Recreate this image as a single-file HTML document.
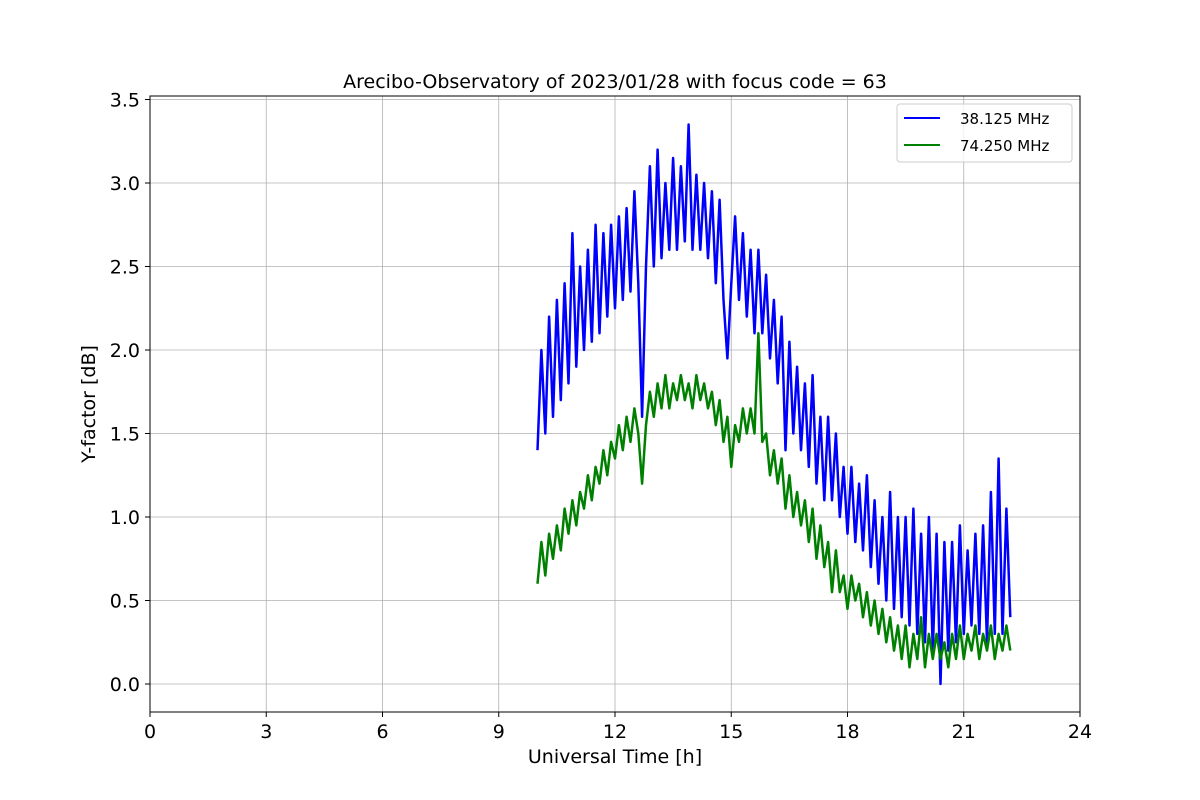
<!DOCTYPE html>
<html><head><meta charset="utf-8"><style>
html,body{margin:0;padding:0;background:#fff;}
svg{display:block;font-family:"DejaVu Sans","Liberation Sans",sans-serif;}
</style></head><body>
<svg id="chart" width="1200" height="800" xmlns="http://www.w3.org/2000/svg">
<rect width="1200" height="800" fill="#fff"/>
<text x="615" y="88" font-size="19" text-anchor="middle" fill="#000">Arecibo-Observatory of 2023/01/28 with focus code = 63</text>
<g id="grid"></g>
<g id="series"></g>
<rect x="150" y="96" width="930" height="616" fill="none" stroke="#000" stroke-width="1"/>
<g id="ticks"></g>
<text x="615" y="763" font-size="19" text-anchor="middle">Universal Time [h]</text>
<text transform="translate(95,404) rotate(-90)" font-size="19" text-anchor="middle">Y-factor [dB]</text>
<g>
<rect x="897" y="104" width="175" height="58" rx="3" fill="#fff" fill-opacity="0.8" stroke="#ccc"/>
<line x1="904" y1="118" x2="940" y2="118" stroke="#0000ff" stroke-width="2"/>
<text x="960" y="124" font-size="15">38.125 MHz</text>
<line x1="904" y1="145" x2="940" y2="145" stroke="#008000" stroke-width="2"/>
<text x="960" y="151" font-size="15">74.250 MHz</text>
</g>
</svg>
<script>
const xTicks=[0,3,6,9,12,15,18,21,24];
const yTicks=[0.0,0.5,1.0,1.5,2.0,2.5,3.0,3.5];
const tStart=10.0, tStep=0.1;
const blue=[1.4,2.0,1.5,2.2,1.6,2.3,1.7,2.4,1.8,2.7,1.9,2.5,2.0,2.6,2.05,2.75,2.1,2.7,2.2,2.75,2.25,2.8,2.3,2.85,2.35,2.95,2.4,1.6,2.5,3.1,2.5,3.2,2.55,3.0,2.6,3.15,2.6,3.1,2.65,3.35,2.6,3.05,2.6,3.0,2.55,2.95,2.4,2.9,2.3,1.95,2.4,2.8,2.3,2.7,2.2,2.6,2.1,2.6,2.1,2.45,1.95,2.3,1.8,2.2,1.4,2.05,1.5,1.9,1.4,1.8,1.3,1.85,1.2,1.6,1.1,1.6,1.1,1.5,1.0,1.3,0.9,1.3,0.85,1.2,0.8,1.25,0.7,1.1,0.6,1.0,0.5,1.15,0.45,1.0,0.4,1.0,0.35,1.05,0.3,0.9,0.25,1.0,0.2,0.9,0.0,0.85,0.2,0.85,0.25,0.95,0.3,0.8,0.35,0.9,0.3,0.95,0.25,1.15,0.3,1.35,0.3,1.05,0.4];
const green=[0.6,0.85,0.65,0.9,0.75,0.95,0.8,1.05,0.9,1.1,0.95,1.15,1.05,1.25,1.1,1.3,1.2,1.4,1.25,1.45,1.35,1.55,1.4,1.6,1.45,1.65,1.5,1.2,1.55,1.75,1.6,1.8,1.65,1.85,1.65,1.8,1.7,1.85,1.7,1.8,1.65,1.85,1.7,1.8,1.65,1.75,1.55,1.7,1.45,1.6,1.3,1.55,1.45,1.65,1.5,1.65,1.5,2.1,1.45,1.5,1.25,1.4,1.2,1.35,1.05,1.25,1.0,1.15,0.95,1.1,0.85,1.05,0.75,0.95,0.7,0.85,0.55,0.8,0.55,0.65,0.45,0.65,0.5,0.6,0.4,0.55,0.35,0.5,0.3,0.45,0.25,0.4,0.2,0.35,0.15,0.35,0.1,0.3,0.15,0.4,0.1,0.3,0.15,0.3,0.15,0.25,0.1,0.3,0.15,0.35,0.15,0.3,0.2,0.35,0.15,0.3,0.2,0.35,0.15,0.3,0.2,0.35,0.2];
const NS="http://www.w3.org/2000/svg";
const X0=150,X1=1080,XMIN=0,XMAX=24;
const Y0v=684,YPER=167;
function sx(v){return X0+(v-XMIN)/(XMAX-XMIN)*(X1-X0);}
function sy(v){return Y0v-v*YPER;}
function mk(tag,attrs,parent){const e=document.createElementNS(NS,tag);for(const k in attrs)e.setAttribute(k,attrs[k]);parent.appendChild(e);return e;}
const grid=document.getElementById('grid'),ticks=document.getElementById('ticks'),ser=document.getElementById('series');
xTicks.forEach(t=>{const x=sx(t);
 const g=mk('line',{x1:x,x2:x,y1:96,y2:712,stroke:'#b0b0b0','stroke-width':0.8},grid);
 
 
 mk('line',{x1:x,x2:x,y1:712,y2:717,stroke:'#000'},ticks);
 const tx=mk('text',{x:x,y:738,'font-size':19,'text-anchor':'middle'},ticks);tx.textContent=t;
 
 
});
yTicks.forEach(t=>{const y=sy(t);
 const g=mk('line',{x1:150,x2:1080,y1:y,y2:y,stroke:'#b0b0b0','stroke-width':0.8},grid);
 
 
 mk('line',{x1:145,x2:150,y1:y,y2:y,stroke:'#000'},ticks);
 const tx=mk('text',{x:140,y:y+7,'font-size':19,'text-anchor':'end'},ticks);tx.textContent=t.toFixed(1);
 
 
});
function draw(arr,color,name){
 const pts=arr.map((v,i)=>sx(tStart+i*tStep).toFixed(1)+','+sy(v).toFixed(1)).join(' ');
 const p=mk('polyline',{points:pts,fill:'none',stroke:color,'stroke-width':2.5,'stroke-linejoin':'round'},ser);
 
 
}
draw(blue,'#0000ff','series-38mhz');
draw(green,'#008000','series-74mhz');
</script>
</body></html>
